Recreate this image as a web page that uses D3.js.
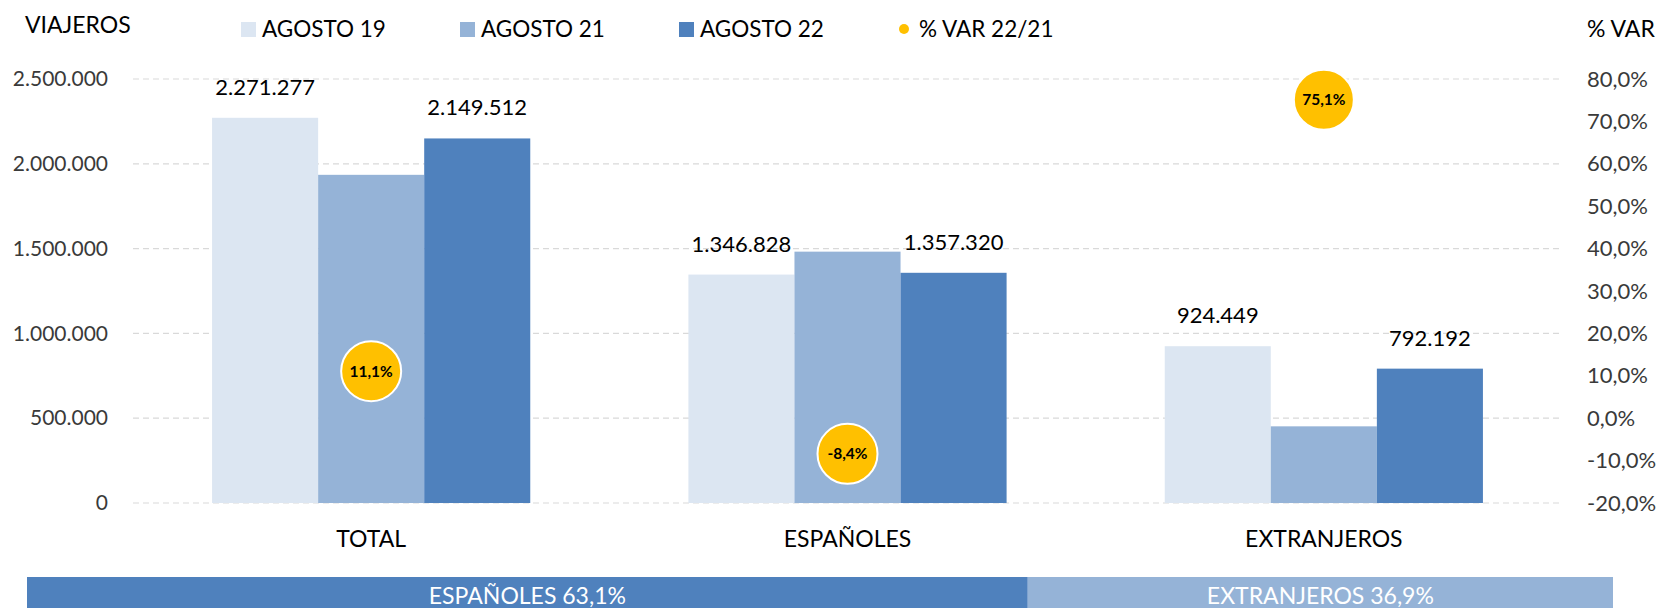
<!DOCTYPE html>
<html>
<head>
<meta charset="utf-8">
<script src="https://cdnjs.cloudflare.com/ajax/libs/d3/7.8.5/d3.min.js"></script>
<style>
  body { margin: 0; background: #fff; }
  svg { display: block; font-family: 'Lato', 'Noto Sans', sans-serif; }
</style>
</head>
<body>
<svg></svg>
<script>
let categories = ['TOTAL', 'ESPAÑOLES', 'EXTRANJEROS']
let series = ['AGOSTO 19', 'AGOSTO 21', 'AGOSTO 22']
let agosto19 = [2271277, 1346828, 924449]
let agosto21 = [1935000, 1482000, 452000]
let agosto22 = [2149512, 1357320, 792192]
let varPct = [11.1, -8.4, 75.1]
let shareNames = ['ESPAÑOLES', 'EXTRANJEROS']
let shareValues = [63.1, 36.9]
let leftTicks = [0, 500000, 1000000, 1500000, 2000000, 2500000]
let rightTicks = [-20, -10, 0, 10, 20, 30, 40, 50, 60, 70, 80]

let colors = ['#dce6f2', '#95b3d7', '#4f81bd']
let shareColors = ['#4f81bd', '#95b3d7']

let width = 1658
let height = 608
let svg = d3.select('svg').attr('width', width).attr('height', height)

let values = [agosto19, agosto21, agosto22]
let es = d3.format(',')
let fmtNum = (v) => es(v).replace(/,/g, '.')
let fmtPct = (v) => v.toFixed(1).replace('.', ',') + '%'

let x0 = d3.scaleBand().domain(categories).range([133, 1562]).padding(0)
let x1 = d3.scaleBand().domain(series)
  .range([x0.bandwidth() * 0.166, x0.bandwidth() * 0.834])
let yScale = d3.scaleLinear().domain([0, 2500000]).range([503, 79])
let yVar = d3.scaleLinear().domain([-20, 80]).range([503, 79])

// grid
svg.append('g')
  .selectAll('line')
  .data(leftTicks)
  .enter()
  .append('line')
  .attr('x1', 133).attr('x2', 1562)
  .attr('y1', (d) => yScale(d)).attr('y2', (d) => yScale(d))
  .attr('stroke', '#d9d9d9')
  .attr('stroke-dasharray', '6,4')
  .attr('stroke-width', 1.2)

// left axis
let yAxis = d3.axisLeft(yScale).tickValues(leftTicks).tickSize(0).tickPadding(0).tickFormat(fmtNum)
svg.append('g')
  .attr('transform', 'translate(108,0)')
  .call(yAxis)
  .call(g => g.select('.domain').remove())
  .selectAll('text')
  .attr('font-size', 21).attr('fill', '#3a3a3a').attr('font-family', 'Lato')

// right axis
let rAxis = d3.axisRight(yVar).tickValues(rightTicks).tickSize(0).tickPadding(0).tickFormat(fmtPct)
svg.append('g')
  .attr('transform', 'translate(1587,0)')
  .call(rAxis)
  .call(g => g.select('.domain').remove())
  .selectAll('text')
  .attr('font-size', 22).attr('fill', '#3a3a3a').attr('font-family', 'Lato')

// bars
let groups = svg.append('g')
  .selectAll('g')
  .data(categories)
  .enter()
  .append('g')
  .attr('transform', (d) => 'translate(' + x0(d) + ',0)')

groups.selectAll('rect')
  .data((d, i) => series.map((s, j) => ({ s: s, v: values[j][i], j: j })))
  .enter()
  .append('rect')
  .attr('x', (d) => x1(d.s))
  .attr('width', x1.bandwidth())
  .attr('y', (d) => yScale(d.v))
  .attr('height', (d) => yScale(0) - yScale(d.v))
  .attr('fill', (d) => colors[d.j])

// value labels (only AGOSTO 19 and AGOSTO 22)
groups.selectAll('text.val')
  .data((d, i) => series.map((s, j) => ({ s: s, v: values[j][i], j: j })).filter(d => d.j != 1))
  .enter()
  .append('text')
  .attr('class', 'val')
  .attr('x', (d) => x1(d.s) + x1.bandwidth() / 2)
  .attr('y', (d) => yScale(d.v) - 23)
  .attr('text-anchor', 'middle')
  .attr('font-size', 22)
  .attr('fill', '#000')
  .text((d) => fmtNum(d.v))

// category labels
svg.append('g')
  .selectAll('text')
  .data(categories)
  .enter()
  .append('text')
  .attr('x', (d) => x0(d) + x0.bandwidth() / 2)
  .attr('y', 547)
  .attr('text-anchor', 'middle')
  .attr('font-size', 23)
  .attr('fill', '#000')
  .text((d) => d)

// % var bubbles
let bub = svg.append('g')
  .selectAll('g')
  .data(categories)
  .enter()
  .append('g')
  .attr('transform', (d, i) => 'translate(' + (x0(d) + x0.bandwidth() / 2) + ',' + yVar(varPct[i]) + ')')

bub.append('circle')
  .attr('r', 30)
  .attr('fill', '#ffc000')
  .attr('stroke', '#fff')
  .attr('stroke-width', 2)

bub.append('text')
  .attr('text-anchor', 'middle')
  .attr('dy', '0.35em')
  .attr('font-size', 15.5)
  .attr('font-weight', 'bold')
  .attr('fill', '#000')
  .text((d, i) => fmtPct(varPct[i]))

// titles
svg.append('text').attr('x', 25).attr('y', 33).attr('font-size', 23).attr('fill', '#000').text('VIAJEROS')
svg.append('text').attr('x', 1587).attr('y', 37).attr('font-size', 23).attr('fill', '#000').text('% VAR')

// legend
let legendX = [241, 460, 679]
let legend = svg.append('g')
series.forEach((s, i) => {
  legend.append('rect')
    .attr('x', legendX[i]).attr('y', 22)
    .attr('width', 15).attr('height', 15)
    .attr('fill', colors[i])
  legend.append('text')
    .attr('x', legendX[i] + 21).attr('y', 37)
    .attr('font-size', 22.5).attr('fill', '#000')
    .text(s)
})
legend.append('circle').attr('cx', 904).attr('cy', 29).attr('r', 5).attr('fill', '#ffc000')
legend.append('text').attr('x', 919).attr('y', 37).attr('font-size', 22.5).attr('fill', '#000').text('% VAR 22/21')

// bottom share band
let xs = d3.scaleLinear().domain([0, 100]).range([27, 1613])
let cum = [0]
shareValues.forEach((v, i) => cum.push(cum[i] + v))

let band = svg.append('g')
  .selectAll('g')
  .data(shareNames)
  .enter()
  .append('g')

band.append('rect')
  .attr('x', (d, i) => xs(cum[i]))
  .attr('width', (d, i) => xs(cum[i + 1]) - xs(cum[i]))
  .attr('y', 577)
  .attr('height', 40)
  .attr('fill', (d, i) => shareColors[i])

band.append('text')
  .attr('x', (d, i) => (xs(cum[i]) + xs(cum[i + 1])) / 2)
  .attr('y', 604)
  .attr('text-anchor', 'middle')
  .attr('font-size', 23)
  .attr('fill', '#fff')
  .text((d, i) => d + ' ' + fmtPct(shareValues[i]))
</script>
</body>
</html>
